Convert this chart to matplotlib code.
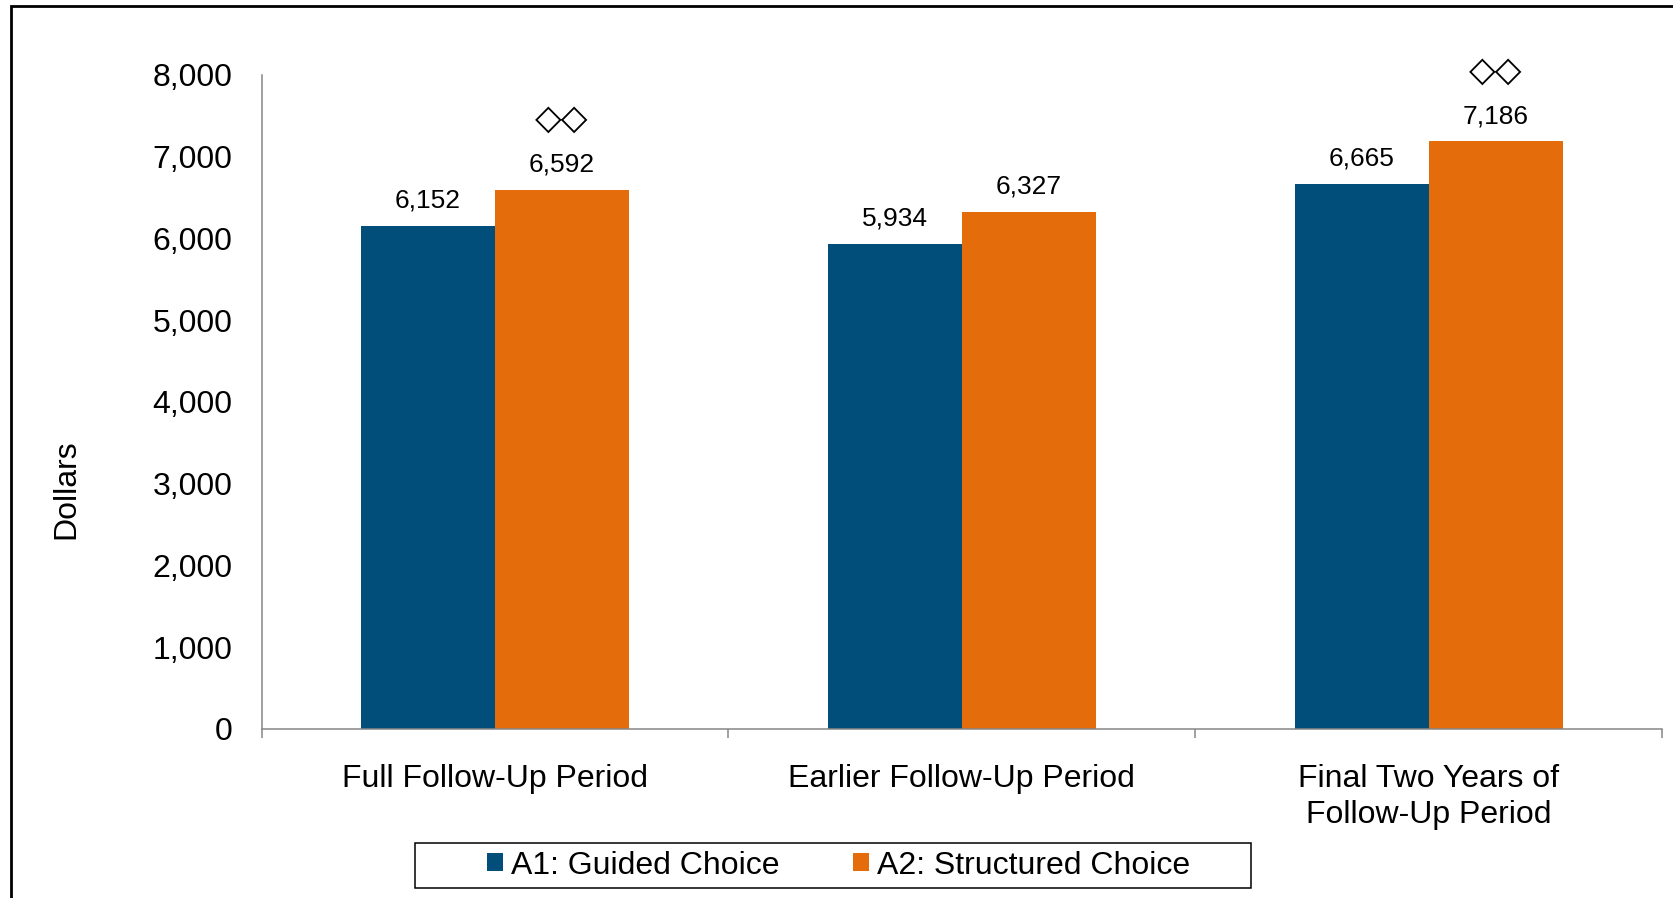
import matplotlib
matplotlib.use("Agg")
import matplotlib.pyplot as plt
import numpy as np
from matplotlib.patches import Rectangle

# ---- data ----
categories = ["Full Follow-Up Period", "Earlier Follow-Up Period",
              "Final Two Years of\nFollow-Up Period"]
series_names = ["A1: Guided Choice", "A2: Structured Choice"]
a1_values = [6152, 5934, 6665]
a2_values = [6592, 6327, 7186]
a2_markers = ["\u25C7\u25C7", "", "\u25C7\u25C7"]
y_ticks = [0, 1000, 2000, 3000, 4000, 5000, 6000, 7000, 8000]
y_label = "Dollars"

BLUE = "#024E7A"
ORANGE = "#E46C0A"
GREY = "#868686"
FS = 23

plt.rcParams["font.family"] = ["Liberation Sans", "DejaVu Sans"]

W, H = 1674, 898
fig = plt.figure(figsize=(W / 100, H / 100), dpi=100)
left, right, top, bottom = 261.6, 1662.0, 74.7, 729.0
ax = fig.add_axes([left / W, 1 - bottom / H, (right - left) / W, (bottom - top) / H])

x = np.arange(len(categories))
w = 0.287
b1 = ax.bar(x - w / 2, a1_values, w, color=BLUE, label=series_names[0])
b2 = ax.bar(x + w / 2, a2_values, w, color=ORANGE, label=series_names[1])

ax.bar_label(b1, labels=[f"{v:,}" for v in a1_values], padding=9.5, fontsize=19)
ax.bar_label(b2, labels=[f"{v:,}" for v in a2_values], padding=9.5, fontsize=19)

for xi, v, m in zip(x, a2_values, a2_markers):
    if m:
        ax.annotate(m, (xi + w / 2, v), xytext=(0, 51), textcoords="offset points",
                    ha="center", va="center", fontsize=25, family=["DejaVu Sans"])

ax.set_xlim(-0.5, len(categories) - 0.5)
ax.set_ylim(0, 8000)
ax.set_yticks(y_ticks)
ax.set_yticklabels([f"{t:,}" for t in y_ticks])
ax.tick_params(axis="y", length=0, pad=21, labelsize=FS)

ax.set_xticks(np.arange(len(categories) + 1) - 0.5)
ax.set_xticklabels([])
ax.set_xticks(x, minor=True)
ax.set_xticklabels(categories, minor=True, fontsize=FS, linespacing=1.26)
ax.tick_params(axis="x", which="major", length=6.5, width=1.1, color=GREY, direction="out")
ax.tick_params(axis="x", which="minor", length=0, pad=25.5)

for s in ["top", "right"]:
    ax.spines[s].set_visible(False)
for s in ["left", "bottom"]:
    ax.spines[s].set_color(GREY)
    ax.spines[s].set_linewidth(1.1)

fig.text(66 / W, 1 - 489 / H, y_label, rotation=90, ha="center", va="center", fontsize=FS)

leg = fig.legend(handles=[b1, b2], loc="center", bbox_to_anchor=(839 / W, 1 - 865.5 / H),
                 ncol=2, frameon=False, fontsize=FS, handlelength=0.48, handleheight=0.48,
                 handletextpad=0.27, columnspacing=2.3, borderpad=0.1)

fig.add_artist(Rectangle((415 / W, 1 - 888 / H), 836 / W, 45 / H, transform=fig.transFigure,
                         fill=False, ec="black", lw=1.1))
fig.add_artist(Rectangle((10.7 / W, -0.5), 2.0, (1 - 6.4 / H) + 0.5, transform=fig.transFigure,
                         fill=False, ec="black", lw=2))

fig.savefig("out.png", dpi=100)
